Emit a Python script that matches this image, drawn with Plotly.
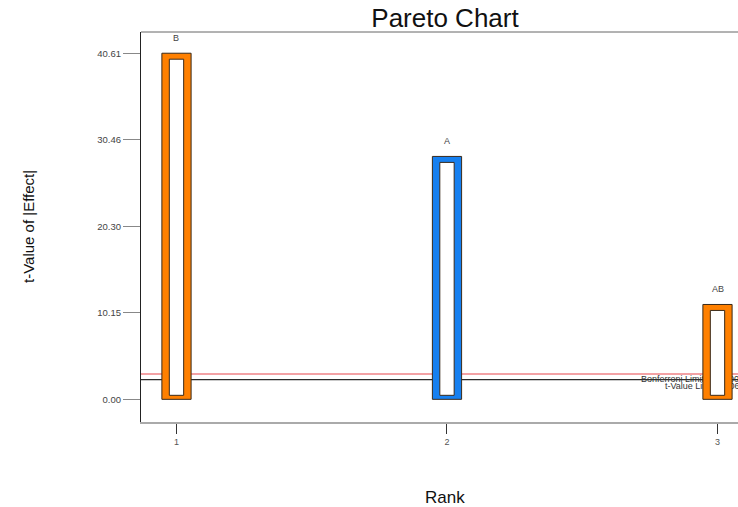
import plotly.graph_objects as go

# Effect ranks, term names and |t| values
ranks = [1, 2, 3]
terms = ["B", "A", "AB"]
t_values = [40.61, 28.50, 11.13]
bar_colors = ["#FF8000", "#1780F0", "#FF8000"]

# Significance limits
t_limit = 2.306
bonferroni_limit = 2.97

# Y tick labels
y_ticks = [0.00, 10.15, 20.30, 30.46, 40.61]
y_tick_text = ["0.00", "10.15", "20.30", "30.46", "40.61"]

FONT = "Arial, 'Liberation Sans', sans-serif"
INSET_BOTTOM = 0.47   # hollow-bar inset at the base, in |t| units
INSET_TOP = 0.70      # hollow-bar inset at the top, in |t| units
X_RANGE = [0.8688, 3.0758]
Y_RANGE = [-2.66, 43.1]

fig = go.Figure()

# Limit labels sit on the base subplot so the bars (drawn on the overlay) hide them
fig.add_trace(go.Scatter(
    x=[2.717, 2.806], y=[t_limit, t_limit - 0.85], mode="text",
    text=[f"Bonferroni Limit {bonferroni_limit:.5f}", f"t-Value Limit {t_limit:.5f}"],
    textposition="middle right",
    textfont=dict(family=FONT, size=9, color="#333333"),
    xaxis="x", yaxis="y", hoverinfo="skip", showlegend=False, cliponaxis=False,
))

# Outer coloured bars
fig.add_trace(go.Bar(
    x=ranks, y=t_values, width=0.108,
    marker=dict(color=bar_colors, line=dict(color="#3a2a1a", width=1)),
    xaxis="x2", yaxis="y2", hoverinfo="skip", showlegend=False,
))
# White hollow centre of each bar
fig.add_trace(go.Bar(
    x=ranks,
    base=[INSET_BOTTOM] * len(t_values),
    y=[v - INSET_TOP - INSET_BOTTOM for v in t_values],
    width=0.053,
    marker=dict(color="white", line=dict(color="#3a2a1a", width=1)),
    xaxis="x2", yaxis="y2", hoverinfo="skip", showlegend=False,
))

shapes = [
    # Limit lines (behind all traces)
    dict(type="line", xref="paper", x0=0, x1=1, yref="y", y0=bonferroni_limit, y1=bonferroni_limit,
         line=dict(color="#E8464C", width=1.2), layer="below"),
    dict(type="line", xref="paper", x0=0, x1=1, yref="y", y0=t_limit, y1=t_limit,
         line=dict(color="#2a2a2a", width=1.2), layer="below"),
    # Top frame line
    dict(type="line", xref="paper", x0=0, x1=1, yref="paper", y0=1, y1=1,
         line=dict(color="#666666", width=1)),
]

annotations = [
    dict(x=r, y=v, xref="x", yref="y", text=t, showarrow=False,
         yanchor="middle", yshift=15, font=dict(family=FONT, size=9, color="#444444"))
    for r, v, t in zip(ranks, t_values, terms)
]
annotations += [
    dict(text="t-Value of |Effect|", xref="paper", yref="paper", x=0, y=0.5,
         xanchor="center", yanchor="middle", xshift=-113, textangle=-90, showarrow=False,
         font=dict(family=FONT, size=15, color="#111111")),
    dict(text="Rank", xref="paper", yref="paper", x=0.51, y=0,
         xanchor="center", yanchor="middle", yshift=-75, showarrow=False,
         font=dict(family=FONT, size=17, color="#111111")),
]

fig.update_layout(
    width=738, height=507,
    margin=dict(l=141, r=0, t=32, b=85),
    paper_bgcolor="white", plot_bgcolor="white",
    barmode="overlay",
    title=dict(text="Pareto Chart", x=0.603, xanchor="center", y=0.965, yanchor="middle",
               font=dict(family=FONT, size=26, color="#111111")),
    xaxis=dict(range=X_RANGE, tickvals=ranks, ticktext=[str(r) for r in ranks],
               showgrid=False, zeroline=False, showline=True, linecolor="#aaaaaa", linewidth=1.5,
               ticks="outside", ticklen=10, tickcolor="#333333", tickwidth=1,
               tickfont=dict(family=FONT, size=9, color="#555555")),
    yaxis=dict(range=Y_RANGE, tickvals=y_ticks, ticktext=y_tick_text,
               showgrid=False, zeroline=False, showline=True, linecolor="#222222", linewidth=1.2,
               ticks="outside", ticklen=17, tickcolor="#888888", tickwidth=1,
               tickfont=dict(family=FONT, size=9.5, color="#444444")),
    xaxis2=dict(overlaying="x", matches="x", range=X_RANGE, visible=False),
    yaxis2=dict(overlaying="y", matches="y", range=Y_RANGE, visible=False),
    shapes=shapes, annotations=annotations,
)

fig.write_html("out.html")
